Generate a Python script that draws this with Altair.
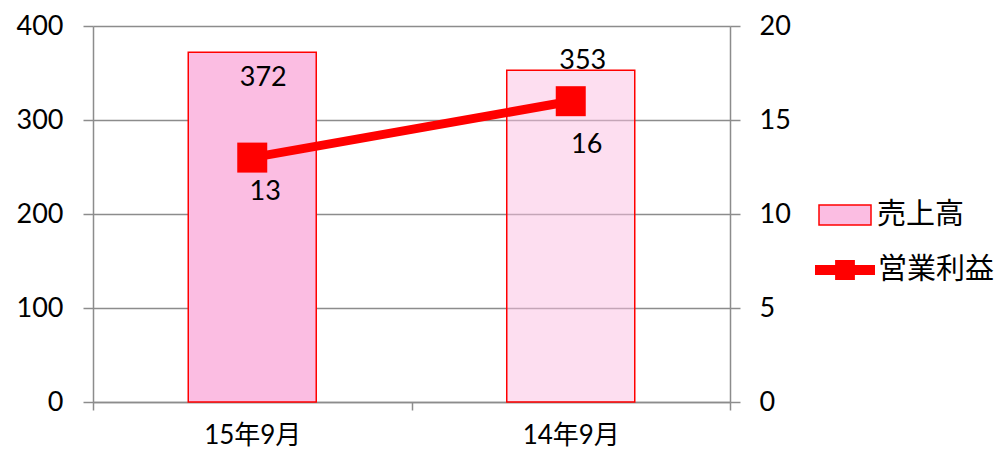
import altair as alt
import pandas as pd

categories = ["15年9月", "14年9月"]
sales = [372, 353]
profit = [13, 16]
sales_name = "売上高"
profit_name = "営業利益"

df = pd.DataFrame({
    "cat": categories,
    "sales": sales,
    "profit": profit,
    "s_series": [sales_name] * 2,
    "p_series": [profit_name] * 2,
})

FONT = "Lato, 'Noto Sans CJK JP', sans-serif"
GRID = "#8c8c8c"

x_enc = alt.X("cat:N", sort=categories,
              scale=alt.Scale(paddingInner=0, paddingOuter=0),
              axis=alt.Axis(title=None, labelAngle=0, labelFontSize=26, labelColor="black",
                            labelFont=FONT, tickBand="extent", tickSize=8, tickColor=GRID,
                            tickWidth=1.5, domainColor=GRID, domainWidth=1.5, labelPadding=12,
                            grid=False))

y_left = alt.Y("sales:Q", scale=alt.Scale(domain=[0, 400], nice=False),
               axis=alt.Axis(title=None, values=[0, 100, 200, 300, 400], grid=True,
                             gridColor=GRID, gridWidth=1.5, domainColor=GRID, domainWidth=1.5,
                             tickColor=GRID, tickWidth=1.5, tickSize=10, labelFontSize=27,
                             labelColor="black", labelFont=FONT, labelPadding=20))

y_right = alt.Y("profit:Q", scale=alt.Scale(domain=[0, 20], nice=False),
                axis=alt.Axis(title=None, orient="right", values=[0, 5, 10, 15, 20], grid=False,
                              domainColor=GRID, domainWidth=1.5, tickColor=GRID, tickWidth=1.5,
                              tickSize=10, labelFontSize=27, labelColor="black", labelFont=FONT,
                              labelPadding=19))

base = alt.Chart(df)

bars = base.mark_bar(width=128, stroke="red", strokeWidth=1.5).encode(
    x=x_enc,
    y=y_left,
    fill=alt.Fill("s_series:N", scale=alt.Scale(domain=[sales_name], range=["#fbbde2"]),
                  legend=alt.Legend(title=None, orient="none", legendX=725, legendY=162,
                                    symbolType="M-1,-0.38H1V0.38H-1Z", symbolSize=2704,
                                    symbolStrokeColor="red", symbolStrokeWidth=1.5,
                                    labelFontSize=29, labelFont=FONT, labelColor="black",
                                    labelOffset=5, padding=0)),
    fillOpacity=alt.FillOpacity("cat:N", sort=categories,
                                scale=alt.Scale(domain=categories, range=[1.0, 0.5]),
                                legend=None),
)

bar_txt1 = base.mark_text(fontSize=27, font=FONT, color="black", dx=11, dy=26).encode(
    x=alt.X("cat:N", sort=categories), y="sales:Q", text="sales:Q"
).transform_filter(alt.datum.cat == categories[0])
bar_txt2 = base.mark_text(fontSize=27, font=FONT, color="black", dx=12, dy=-9).encode(
    x=alt.X("cat:N", sort=categories), y="sales:Q", text="sales:Q"
).transform_filter(alt.datum.cat == categories[1])

bar_layer = alt.layer(bars, bar_txt1, bar_txt2)

line = base.mark_line(color="red", strokeWidth=9).encode(
    x=alt.X("cat:N", sort=categories), y=y_right
)
pts = base.mark_square(filled=True, size=900, opacity=1).encode(
    x=alt.X("cat:N", sort=categories),
    y="profit:Q",
    color=alt.Color("p_series:N", scale=alt.Scale(domain=[profit_name], range=["red"]),
                    legend=alt.Legend(title=None, orient="none", legendX=722, legendY=214,
                                      symbolType="M-1,-0.17H1V0.17H-1Z M-0.33,-0.33H0.33V0.33H-0.33Z",
                                      symbolSize=3600, symbolStrokeWidth=0,
                                      labelFontSize=29, labelFont=FONT, labelColor="black",
                                      labelOffset=3, padding=0)),
)
line_txt1 = base.mark_text(fontSize=27, font=FONT, color="black", dx=13, dy=34).encode(
    x=alt.X("cat:N", sort=categories), y="profit:Q", text="profit:Q"
).transform_filter(alt.datum.cat == categories[0])
line_txt2 = base.mark_text(fontSize=27, font=FONT, color="black", dx=16, dy=44).encode(
    x=alt.X("cat:N", sort=categories), y="profit:Q", text="profit:Q"
).transform_filter(alt.datum.cat == categories[1])

line_layer = alt.layer(line, pts, line_txt1, line_txt2)

chart = alt.layer(bar_layer, line_layer).resolve_scale(
    y="independent", fill="independent", color="independent"
).properties(
    width=637, height=376,
    autosize=alt.AutoSizeParams(type="none"),
    padding={"left": 85, "top": 18, "right": 270, "bottom": 48},
    background="white",
).configure_view(stroke=None)

chart.save("out.html", embed_options={"renderer": "svg", "actions": False})
